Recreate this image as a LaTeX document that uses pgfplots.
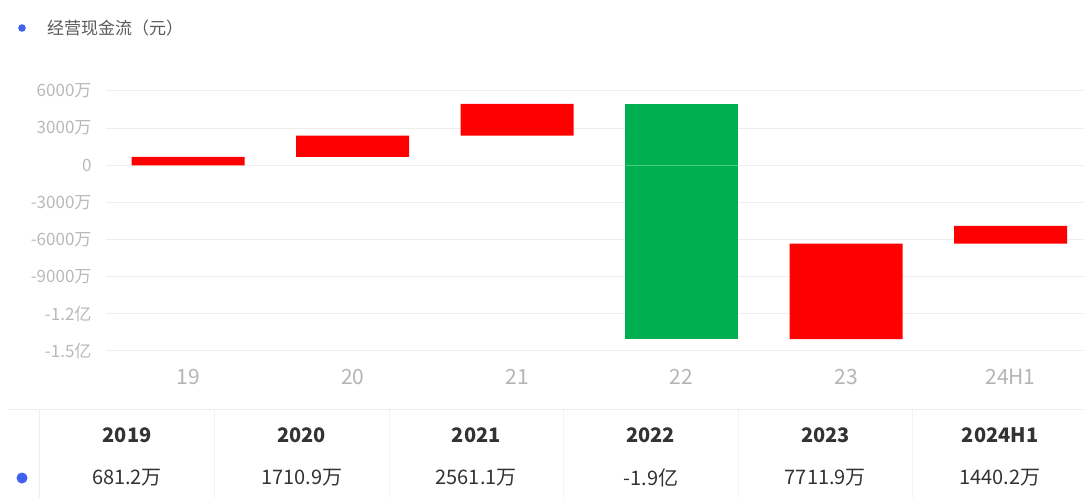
\documentclass[border=0pt]{standalone}
\usepackage{fontspec}
\setmainfont{Noto Sans CJK SC}
\usepackage{pgfplots}
\pgfplotsset{compat=1.18}
\definecolor{wfred}{RGB}{255,0,0}
\definecolor{wfgreen}{RGB}{0,176,80}
\definecolor{gridc}{RGB}{238,238,238}
\definecolor{ticky}{RGB}{185,185,185}
\definecolor{tickx}{RGB}{180,180,180}
\definecolor{txt}{RGB}{51,51,51}
\definecolor{legtxt}{RGB}{90,90,90}
\definecolor{dotblue}{RGB}{64,96,240}
\begin{document}
\begin{tikzpicture}[x=1pt,y=1pt]
\useasboundingbox (0,0) rectangle (1084,498);
\begin{axis}[
  at={(106pt,147pt)}, anchor=south west,
  scale only axis, width=978pt, height=260pt,
  xmin=-0.5, xmax=5.447, ymin=-15000, ymax=6000,
  ybar stacked, stack negative=on previous, bar width=113pt,
  axis line style={draw=none},
  major tick length=0pt,
  scaled y ticks=false,
  ymajorgrids, grid style={gridc, line width=1pt},
  xtick={0,1,2,3,4,5},
  xticklabels={19,20,21,22,23,24H1},
  ytick={-15000,-12000,-9000,-6000,-3000,0,3000,6000},
  yticklabels={-1.5亿,-1.2亿,-9000万,-6000万,-3000万,0,3000万,6000万},
  yticklabel style={font=\fontsize{17}{19}\selectfont, text=ticky, xshift=-11pt},
  xticklabel style={font=\fontsize{21}{24}\selectfont, text=tickx, yshift=-15pt},
  clip=false,
]
\addplot[draw=none, fill=none] coordinates {(0,0) (1,681.2) (2,2392.1) (3,-14046.8) (4,-14046.8) (5,-6334.9)};
\addplot[draw=none, fill=wfred] coordinates {(0,681.2) (1,1710.9) (2,2561.1) (3,0) (4,7711.9) (5,1440.2)};
\addplot[draw=none, fill=wfgreen] coordinates {(0,0) (1,0) (2,0) (3,19000) (4,0) (5,0)};
\coordinate (zl) at (axis cs:2.66,0);
\coordinate (zr) at (axis cs:3.34,0);
\end{axis}
\draw[line width=1pt, color={rgb,255:red,70;green,205;blue,125}] (zl) -- (zr);
% legend
\fill[dotblue] (22,470) circle (3.8);
\node[anchor=west, text=legtxt, font=\fontsize{17}{20}\selectfont, inner sep=0] at (47,470) {经营现金流（元）};
% table
\draw[gridc, line width=1pt] (8,88) -- (1084,88);
\draw[gridc, line width=1pt] (39,88) -- (39,0);
\foreach \b in {214,389,563,738,912}{\draw[gridc!70!white, line width=0.8pt] (\b,88) -- (\b,0);}
\fill[dotblue] (22,20) circle (5.5);
\foreach \c/\h/\v in {0/2019/681.2万, 1/2020/1710.9万, 2/2021/2561.1万, 3/2022/-1.9亿, 4/2023/7711.9万, 5/2024H1/1440.2万}{
  \node[text=txt, font=\fontsize{20}{24}\selectfont\bfseries] at (127+174.6*\c,63) {\h};
  \node[text=txt, font=\fontsize{20}{24}\selectfont] at (127+174.6*\c,20) {\v};
}
\end{tikzpicture}
\end{document}
